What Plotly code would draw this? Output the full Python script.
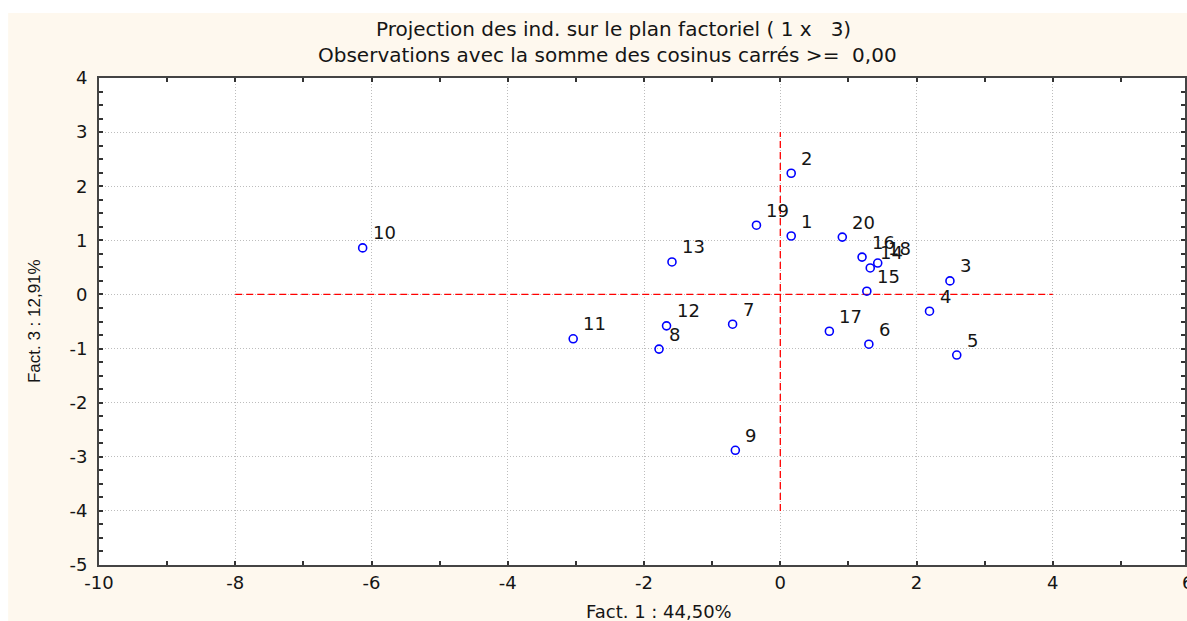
import plotly.graph_objects as go

# Observations (Fact. 1, Fact. 3)
labels = [str(i) for i in range(1, 21)]
fact1 = [0.16, 0.16, 2.49, 2.19, 2.59, 1.30, -0.70, -1.78, -0.66, -6.13,
         -3.04, -1.67, -1.59, 1.32, 1.27, 1.20, 0.72, 1.43, -0.35, 0.91]
fact3 = [1.08, 2.24, 0.25, -0.31, -1.12, -0.92, -0.55, -1.01, -2.88, 0.86,
         -0.82, -0.58, 0.60, 0.49, 0.06, 0.69, -0.68, 0.58, 1.28, 1.06]

# red dashed reference axes
h_line_x = [-8, 4]
h_line_y = [0, 0]
v_line_x = [0, 0]
v_line_y = [-4, 3]

x_ticks = [-10, -8, -6, -4, -2, 0, 2, 4]
x_ticktext = ["-10", "-8", "-6", "-4", "-2", "0", "2", "4"]
y_ticks = [-5, -4, -3, -2, -1, 0, 1, 2, 3, 4]
y_ticktext = ["-5", "-4", "-3", "-2", "-1", "0", "1", "2", "3", "4"]

title1 = "Projection des ind. sur le plan factoriel ( 1 x   3)"
title2 = "Observations avec la somme des cosinus carrés >=  0,00"
xtitle = "Fact. 1 : 44,50%"
ytitle = "Fact. 3 : 12,91%"

cream = "#FEF8EE"
wide = "DejaVu Sans, sans-serif"
narrow = "Liberation Sans, Arial, sans-serif"
txt = "#151515"

fig = go.Figure()
fig.add_trace(go.Scatter(x=h_line_x, y=h_line_y, mode="lines",
                         line=dict(color="#FF0000", width=1.3, dash="7px,4px"),
                         hoverinfo="skip", showlegend=False))
fig.add_trace(go.Scatter(x=v_line_x, y=v_line_y, mode="lines",
                         line=dict(color="#FF0000", width=1.3, dash="7px,4px"),
                         hoverinfo="skip", showlegend=False))
fig.add_trace(go.Scatter(x=fact1, y=fact3, mode="markers",
                         marker=dict(symbol="circle-open", size=8, color="#0000FF",
                                     line=dict(width=1.6, color="#0000FF")),
                         showlegend=False))

for lab, xv, yv in zip(labels, fact1, fact3):
    fig.add_annotation(x=xv, y=yv, xref="x", yref="y", text=lab, showarrow=False,
                       xanchor="left", yanchor="middle", xshift=8, yshift=15,
                       font=dict(family=wide, size=18, color=txt))

axis_common = dict(showline=True, linecolor="#444444", linewidth=2, mirror="allticks",
                   ticks="inside", ticklen=4, tickcolor="#333333", tickwidth=2,
                   showgrid=True, gridcolor="#bdbdbd", griddash="1px,2px", gridwidth=1,
                   zeroline=False, tickfont=dict(family=wide, size=18, color=txt))

fig.update_xaxes(range=[-10, 5.94], tickvals=x_ticks, ticktext=x_ticktext, **axis_common,
                 minor=dict(dtick=1, tick0=-10, ticks="inside", ticklen=4, tickcolor="#333333",
                            tickwidth=2, showgrid=False))
fig.update_yaxes(range=[-5, 4], tickvals=y_ticks, ticktext=y_ticktext, **axis_common,
                 ticklabelstandoff=6,
                 minor=dict(dtick=0.25, tick0=-5, ticks="inside", ticklen=4, tickcolor="#333333",
                            tickwidth=1.5, showgrid=False))

# white outer border around the cream frame
fig.add_shape(type="rect", xref="paper", yref="paper", x0=-1, x1=2, y0=1.0 + 65/487,
              y1=2, fillcolor="white", line=dict(width=0), layer="below")
fig.add_shape(type="rect", xref="paper", yref="paper", x0=-1, x1=-91/1088,
              y0=-1, y1=2, fillcolor="white", line=dict(width=0), layer="below")

fig.add_annotation(xref="paper", yref="paper", x=1, y=0, xanchor="left", yanchor="top",
                   xshift=-5, yshift=-5, text="6", showarrow=False,
                   font=dict(family=wide, size=18, color=txt))

fig.add_annotation(xref="paper", yref="paper", x=(614 - 99) / 1088, y=1 + (78 - 29) / 487,
                   text=title1, showarrow=False, xanchor="center", yanchor="middle",
                   font=dict(family=wide, size=20, color=txt))
fig.add_annotation(xref="paper", yref="paper", x=(608 - 99) / 1088, y=1 + (78 - 55) / 487,
                   text=title2, showarrow=False, xanchor="center", yanchor="middle",
                   font=dict(family=wide, size=20, color=txt))

fig.add_annotation(xref="paper", yref="paper", x=(660 - 99) / 1088, y=-(611 - 565) / 487,
                   text=xtitle, showarrow=False, xanchor="center", yanchor="middle",
                   font=dict(family=wide, size=18, color=txt))
fig.add_annotation(xref="paper", yref="paper", x=(34 - 99) / 1088, y=(565 - 321) / 487,
                   text=ytitle, showarrow=False, xanchor="center", yanchor="middle",
                   textangle=-90, font=dict(family=narrow, size=17, color=txt))

fig.update_layout(
    width=1187, height=621,
    margin=dict(l=99, r=0, t=78, b=56),
    paper_bgcolor=cream, plot_bgcolor="white",
    font=dict(family=wide),
)

fig.write_html("out.html")
